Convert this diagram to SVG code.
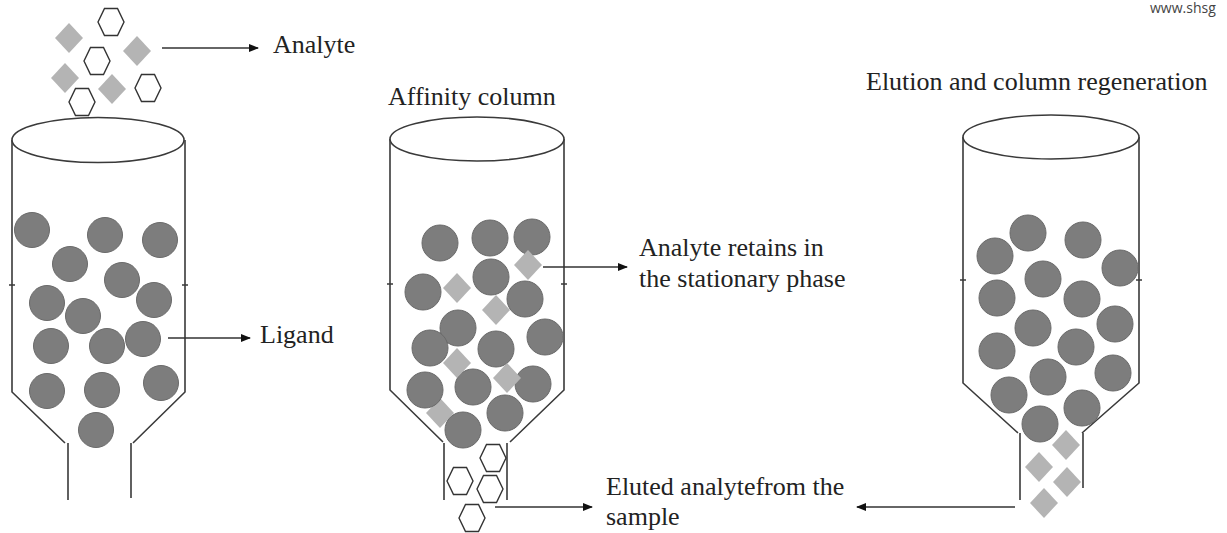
<svg xmlns="http://www.w3.org/2000/svg" xmlns:xlink="http://www.w3.org/1999/xlink" width="1227" height="533" viewBox="0 0 1227 533">
<style>
.lbl{font-family:"Liberation Serif","Times New Roman",serif;font-size:26px;fill:#222}
.wall{fill:none;stroke:#3a3a3a;stroke-width:1.6}
.top{fill:#fff;stroke:#3a3a3a;stroke-width:1.6}
.bead{fill:#7d7d7d;stroke:#6a6a6a;stroke-width:1}
.dia{fill:#b4b4b4}
.hex{fill:#fff;stroke:#333;stroke-width:1.4}
.conn{stroke:#333;stroke-width:1.5;fill:none}
.wm{font-family:"Open Sans","DejaVu Sans",sans-serif;font-size:14px;fill:#444}
</style>
<defs>
<marker id="ah" markerWidth="10" markerHeight="8" refX="9" refY="4" orient="auto" markerUnits="userSpaceOnUse">
<path d="M0,0 L10,4 L0,8 Z" fill="#111"/>
</marker>
<path id="hx" d="M-13,0 L-6.5,-13.5 L6.5,-13.5 L13,0 L6.5,13.5 L-6.5,13.5 Z"/>
<path id="dm" d="M0,-15 L14,0 L0,15 L-14,0 Z"/>
</defs>
<rect width="1227" height="533" fill="#fff"/>
<text class="wm" x="1150" y="13">www.shsg</text>

<g id="analyte-cluster">
<use href="#dm" class="dia" x="69" y="38"/>
<use href="#dm" class="dia" x="137" y="51"/>
<use href="#dm" class="dia" x="65" y="78"/>
<use href="#dm" class="dia" x="112" y="89"/>
<use href="#hx" class="hex" x="111" y="22"/>
<use href="#hx" class="hex" x="97" y="61"/>
<use href="#hx" class="hex" x="148" y="88"/>
<use href="#hx" class="hex" x="82" y="102"/>
</g>

<g id="column-1">
<path class="wall" d="M12,140 V392 L65,443 M185,140 V392 L133,443 M68,443 V500 M131,443 V498 M9,285 H15 M182,285 H188"/>
<ellipse class="top" cx="98" cy="140" rx="86" ry="22.5"/>
<circle class="bead" cx="32" cy="230" r="17.5"/>
<circle class="bead" cx="105" cy="235" r="17.5"/>
<circle class="bead" cx="160" cy="240" r="17.5"/>
<circle class="bead" cx="70" cy="264" r="17.5"/>
<circle class="bead" cx="122" cy="280" r="17.5"/>
<circle class="bead" cx="47" cy="303" r="17.5"/>
<circle class="bead" cx="154" cy="300" r="17.5"/>
<circle class="bead" cx="83" cy="316" r="17.5"/>
<circle class="bead" cx="51" cy="346" r="17.5"/>
<circle class="bead" cx="107" cy="346" r="17.5"/>
<circle class="bead" cx="143" cy="339" r="17.5"/>
<circle class="bead" cx="47" cy="391" r="17.5"/>
<circle class="bead" cx="102" cy="390" r="17.5"/>
<circle class="bead" cx="161" cy="383" r="17.5"/>
<circle class="bead" cx="96" cy="430" r="17.5"/>
</g>

<g id="column-2">
<path class="wall" d="M390,139 V390 L443,442 M564,139 V390 L510,442 M444,443 V500 M507,443 V500 M387,284 H393 M561,284 H567"/>
<ellipse class="top" cx="477" cy="139" rx="87" ry="22"/>
<use href="#dm" class="dia" x="440" y="413"/>
<circle class="bead" cx="440" cy="243" r="18"/>
<circle class="bead" cx="490" cy="238" r="18"/>
<circle class="bead" cx="532" cy="237" r="18"/>
<circle class="bead" cx="423" cy="292" r="18"/>
<circle class="bead" cx="491" cy="277" r="18"/>
<circle class="bead" cx="525" cy="299" r="18"/>
<circle class="bead" cx="458" cy="328" r="18"/>
<circle class="bead" cx="545" cy="337" r="18"/>
<circle class="bead" cx="430" cy="348" r="18"/>
<circle class="bead" cx="496" cy="349" r="18"/>
<circle class="bead" cx="425" cy="390" r="18"/>
<circle class="bead" cx="473" cy="387" r="18"/>
<circle class="bead" cx="533" cy="384" r="18"/>
<circle class="bead" cx="505" cy="413" r="18"/>
<circle class="bead" cx="463" cy="430" r="18"/>
<use href="#dm" class="dia" x="528" y="265"/>
<use href="#dm" class="dia" x="457" y="288"/>
<use href="#dm" class="dia" x="496" y="310"/>
<use href="#dm" class="dia" x="457" y="363"/>
<use href="#dm" class="dia" x="507" y="378"/>
<use href="#hx" class="hex" x="493" y="458"/>
<use href="#hx" class="hex" x="460" y="481"/>
<use href="#hx" class="hex" x="490" y="489"/>
<use href="#hx" class="hex" x="472" y="518"/>
</g>

<g id="column-3">
<path class="wall" d="M963,137 V383 L1018,433 M1139,137 V383 L1082,433 M1020,433 V500 M1083,433 V488 M960,280 H966 M1136,280 H1142"/>
<ellipse class="top" cx="1051" cy="137" rx="88" ry="22"/>
<circle class="bead" cx="995" cy="256" r="18"/>
<circle class="bead" cx="1028" cy="233" r="18"/>
<circle class="bead" cx="1083" cy="240" r="18"/>
<circle class="bead" cx="1120" cy="268" r="18"/>
<circle class="bead" cx="997" cy="298" r="18"/>
<circle class="bead" cx="1043" cy="279" r="18"/>
<circle class="bead" cx="1082" cy="299" r="18"/>
<circle class="bead" cx="1115" cy="324" r="18"/>
<circle class="bead" cx="1033" cy="328" r="18"/>
<circle class="bead" cx="997" cy="351" r="18"/>
<circle class="bead" cx="1076" cy="347" r="18"/>
<circle class="bead" cx="1113" cy="373" r="18"/>
<circle class="bead" cx="1048" cy="377" r="18"/>
<circle class="bead" cx="1009" cy="395" r="18"/>
<circle class="bead" cx="1082" cy="408" r="18"/>
<circle class="bead" cx="1040" cy="424" r="18"/>
<use href="#dm" class="dia" x="1066" y="445"/>
<use href="#dm" class="dia" x="1039" y="467"/>
<use href="#dm" class="dia" x="1067" y="482"/>
<use href="#dm" class="dia" x="1044" y="503"/>
</g>

<g id="labels">
<text class="lbl" x="273" y="53">Analyte</text>
<text class="lbl" x="260" y="343">Ligand</text>
<text class="lbl" x="388" y="105">Affinity column</text>
<text class="lbl" x="866" y="90">Elution and column regeneration</text>
<text class="lbl" x="639" y="256">Analyte retains in</text>
<text class="lbl" x="639" y="287">the stationary phase</text>
<text class="lbl" x="606" y="495">Eluted analytefrom the</text>
<text class="lbl" x="606" y="525">sample</text>
</g>

<g id="connectors">
<line class="conn" x1="162" y1="48" x2="258" y2="48" marker-end="url(#ah)"/>
<line class="conn" x1="168" y1="338" x2="250" y2="338" marker-end="url(#ah)"/>
<line class="conn" x1="543" y1="267" x2="627" y2="267" marker-end="url(#ah)"/>
<line class="conn" x1="495" y1="507" x2="592" y2="507" marker-end="url(#ah)"/>
<line class="conn" x1="1015" y1="507" x2="857" y2="507" marker-end="url(#ah)"/>
</g>
</svg>
